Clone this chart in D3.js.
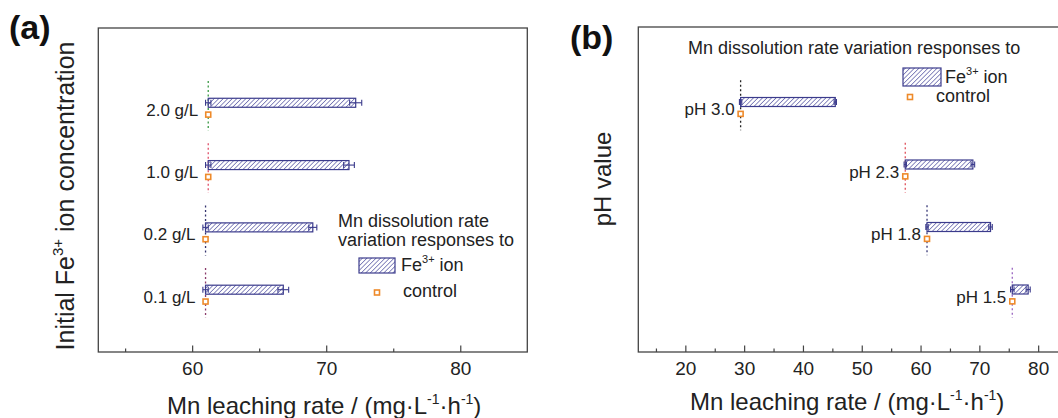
<!DOCTYPE html>
<html>
<head>
<meta charset="utf-8">
<script src="https://cdn.jsdelivr.net/npm/d3@7"></script>
<style>
  body { margin: 0; background: #fff; }
  svg { font-family: 'Liberation Sans', Arial, sans-serif; }
</style>
</head>
<body>
<div id="graph"></div>
<script>
// Panel (a): initial Fe3+ concentration
const concLabels = ['0.1 g/L', '0.2 g/L', '1.0 g/L', '2.0 g/L'];
const feRateA = [66.8, 69.0, 71.7, 72.2];
const feErrA = [0.4, 0.3, 0.4, 0.45];
const ctrlRateA = [61.0, 61.0, 61.2, 61.2];
const ctrlErrA = [0.2, 0.2, 0.2, 0.2];

// Panel (b): pH
const phLabels = ['pH 1.5', 'pH 1.8', 'pH 2.3', 'pH 3.0'];
const feRateB = [78.3, 71.9, 68.9, 45.5];
const feErrB = [0.35, 0.3, 0.3, 0.2];
const ctrlRateB = [75.6, 61.1, 57.4, 29.4];
const ctrlErrB = [0.3, 0.2, 0.2, 0.2];

const majorA = [60, 70, 80], minorA = [55, 65, 75];
const majorB = [20, 30, 40, 50, 60, 70, 80], minorB = [15, 25, 35, 45, 55, 65, 75, 85];

const navy = '#3b3b8c', orange = '#ee8a2a', ink = '#222';
const lineColorsA = ['#8a3a6a', '#34346e', '#e0506a', '#3a9a45'];
const lineColorsB = ['#9a66c0', '#3a3a78', '#e0505a', '#222222'];

const svg = d3.select('#graph').append('svg')
  .attr('width', 1058).attr('height', 418);

// hatch pattern for the bars
const defs = svg.append('defs');
const pat = defs.append('pattern')
  .attr('id', 'hatch')
  .attr('patternUnits', 'userSpaceOnUse')
  .attr('width', 3.2).attr('height', 3.2)
  .attr('patternTransform', 'rotate(45)');
pat.append('rect').attr('width', 3.2).attr('height', 3.2).attr('fill', '#fff');
pat.append('line').attr('x1', 0).attr('y1', 0).attr('x2', 0).attr('y2', 3.2)
  .attr('stroke', '#44449a').attr('stroke-width', 1.2);

function drawPanel(opt) {
  const x = d3.scaleLinear().domain(opt.xDomain).range(opt.xRange);
  const y = d3.scaleLinear().domain([0, 5.2]).range([352, opt.top]);
  const g = svg.append('g');
  const [x0, x1] = opt.xRange;

  // frame
  g.append('rect')
    .attr('x', x0).attr('y', opt.top)
    .attr('width', x1 - x0).attr('height', 352 - opt.top)
    .attr('fill', 'none').attr('stroke', '#444').attr('stroke-width', 1.3);

  // major ticks + labels
  const ax = g.append('g').attr('transform', 'translate(0,352)')
    .call(d3.axisBottom(x).tickValues(opt.major).tickSize(-6.5).tickPadding(9.5).tickFormat(d3.format('d')));
  ax.select('.domain').remove();
  ax.selectAll('.tick line').attr('stroke', '#444').attr('stroke-width', 1.2);
  ax.selectAll('.tick text').attr('fill', ink).style('font-size', '19px').style('font-family', 'Liberation Sans, Arial, sans-serif');

  // minor ticks
  const mx = g.append('g').attr('transform', 'translate(0,352)')
    .call(d3.axisBottom(x).tickValues(opt.minor).tickSize(-3.5).tickFormat(''));
  mx.select('.domain').remove();
  mx.selectAll('.tick line').attr('stroke', '#444').attr('stroke-width', 1.2);

  const idx = d3.range(opt.labels.length).map((i) => i + 1);

  // dotted reference lines at control value
  g.selectAll('.ref').data(idx).join('line')
    .attr('x1', (d, i) => x(opt.ctrl[i])).attr('x2', (d, i) => x(opt.ctrl[i]))
    .attr('y1', (d) => y(d + 0.35)).attr('y2', (d) => y(d - 0.45))
    .attr('stroke', (d, i) => opt.lineColors[i])
    .attr('stroke-width', 1.3).attr('stroke-dasharray', '2,2.5');

  // floating bars from control to Fe3+ rate
  g.selectAll('.bar').data(idx).join('rect')
    .attr('x', (d, i) => x(opt.ctrl[i]))
    .attr('width', (d, i) => x(opt.fe[i]) - x(opt.ctrl[i]))
    .attr('y', (d) => y(d) - 4.5).attr('height', 9)
    .attr('fill', 'url(#hatch)').attr('stroke', navy).attr('stroke-width', 1.2);

  // error bars at both ends
  const errs = [];
  idx.forEach((d, i) => {
    errs.push({ v: opt.fe[i], e: opt.feErr[i], p: d });
    errs.push({ v: opt.ctrl[i], e: opt.ctrlErr[i], p: d });
  });
  const eg = g.selectAll('.err').data(errs).join('g').attr('stroke', navy).attr('stroke-width', 1.1);
  eg.append('line').attr('x1', (d) => x(d.v - d.e)).attr('x2', (d) => x(d.v + d.e))
    .attr('y1', (d) => y(d.p)).attr('y2', (d) => y(d.p));
  eg.append('line').attr('x1', (d) => x(d.v - d.e)).attr('x2', (d) => x(d.v - d.e))
    .attr('y1', (d) => y(d.p) - 3).attr('y2', (d) => y(d.p) + 3);
  eg.append('line').attr('x1', (d) => x(d.v + d.e)).attr('x2', (d) => x(d.v + d.e))
    .attr('y1', (d) => y(d.p) - 3).attr('y2', (d) => y(d.p) + 3);

  // control markers
  g.selectAll('.ctrl').data(idx).join('rect')
    .attr('x', (d, i) => x(opt.ctrl[i]) - 2.5).attr('y', (d) => y(d - 0.19) - 2.5)
    .attr('width', 5).attr('height', 5)
    .attr('fill', '#fff').attr('stroke', orange).attr('stroke-width', 1.6);

  // category labels
  g.selectAll('.lab').data(idx).join('text')
    .attr('x', (d, i) => x(opt.ctrl[i]) - opt.labelGap)
    .attr('y', (d) => y(d) + 13)
    .attr('text-anchor', 'end').attr('fill', ink).style('font-size', '17px')
    .text((d, i) => opt.labels[i]);

  return { x, y };
}

drawPanel({
  xDomain: [53, 85], xRange: [98.3, 527.3], top: 28,
  major: majorA, minor: minorA, labels: concLabels,
  fe: feRateA, feErr: feErrA, ctrl: ctrlRateA, ctrlErr: ctrlErrA,
  lineColors: lineColorsA, labelGap: 10
});
drawPanel({
  xDomain: [12, 88], xRange: [638.3, 1085.2], top: 27,
  major: majorB, minor: minorB, labels: phLabels,
  fe: feRateB, feErr: feErrB, ctrl: ctrlRateB, ctrlErr: ctrlErrB,
  lineColors: lineColorsB, labelGap: 6
});

// panel letters
svg.append('text').attr('x', 9).attr('y', 39).attr('fill', '#111')
  .style('font-size', '34px').style('font-weight', 'bold').text('(a)');
svg.append('text').attr('x', 570).attr('y', 48.5).attr('fill', '#111')
  .style('font-size', '34px').style('font-weight', 'bold').text('(b)');

// axis titles
function unitTitle(x, yb) {
  const t = svg.append('text').attr('x', x).attr('y', yb).attr('fill', ink).style('font-size', '24px');
  t.append('tspan').text('Mn leaching rate / (mg\u00b7L');
  t.append('tspan').attr('dy', -10).style('font-size', '14px').text('-1');
  t.append('tspan').attr('dy', 10).text('\u00b7h');
  t.append('tspan').attr('dy', -10).style('font-size', '14px').text('-1');
  t.append('tspan').attr('dy', 10).text(')');
}
unitTitle(167, 414);
unitTitle(690, 410);

const ta = svg.append('text').attr('transform', 'translate(74,196) rotate(-90)')
  .attr('text-anchor', 'middle').attr('fill', ink).style('font-size', '25px');
ta.append('tspan').text('Initial Fe');
ta.append('tspan').attr('dy', -11).style('font-size', '15px').text('3+');
ta.append('tspan').attr('dy', 11).text(' ion concentration');

svg.append('text').attr('transform', 'translate(611,179) rotate(-90)')
  .attr('text-anchor', 'middle').attr('fill', ink).style('font-size', '24px').text('pH value');

// legends
function feText(x, yb) {
  const t = svg.append('text').attr('x', x).attr('y', yb).attr('fill', ink).style('font-size', '18px');
  t.append('tspan').text('Fe');
  t.append('tspan').attr('dy', -8).style('font-size', '11px').text('3+');
  t.append('tspan').attr('dy', 8).text(' ion');
}
function plainText(x, yb, s) {
  svg.append('text').attr('x', x).attr('y', yb).attr('fill', ink).style('font-size', '18px').text(s);
}
function swatch(x, y, w, h) {
  svg.append('rect').attr('x', x).attr('y', y).attr('width', w).attr('height', h)
    .attr('fill', 'url(#hatch)').attr('stroke', navy).attr('stroke-width', 1.2);
}
function marker(cx, cy) {
  svg.append('rect').attr('x', cx - 2.5).attr('y', cy - 2.5).attr('width', 5).attr('height', 5)
    .attr('fill', '#fff').attr('stroke', orange).attr('stroke-width', 1.6);
}

plainText(338, 227, 'Mn dissolution rate');
plainText(338, 246, 'variation responses to');
swatch(359, 258, 36, 15);
feText(401, 271);
marker(377, 292.5);
plainText(403, 297, 'control');

plainText(688, 54, 'Mn dissolution rate variation responses to');
swatch(903, 68, 38, 18);
feText(945, 83);
marker(910, 97);
plainText(936, 102, 'control');
</script>
</body>
</html>
